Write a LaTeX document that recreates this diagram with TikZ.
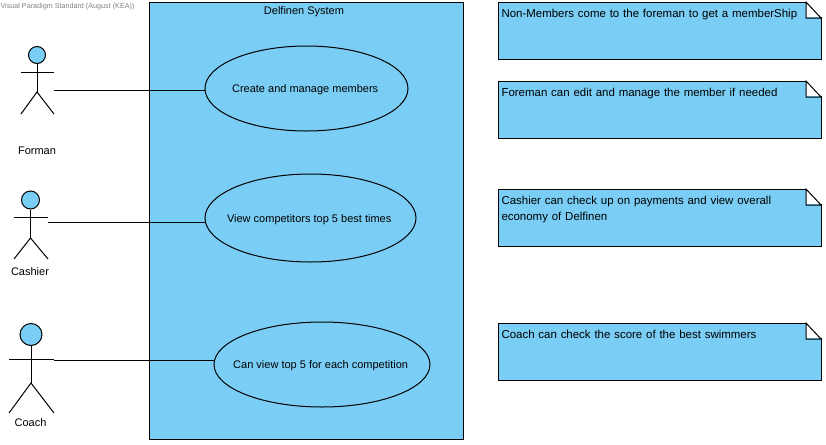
\documentclass[tikz,border=0pt]{standalone}
\usepackage{fontspec}
\setmainfont{Liberation Sans}
\usetikzlibrary{shapes.geometric}
\definecolor{vpblue}{RGB}{122,206,245}
\newcommand{\uclabel}[1]{\makebox[0pt]{\hspace*{-2pt}\raisebox{-3.25pt}[0pt][0pt]{#1}}}

\begin{document}
\begin{tikzpicture}[x=0.75pt,y=-0.75pt,line width=0.75pt,
	every node/.style={inner sep=0pt,font=\fontsize{8.25pt}{11pt}\selectfont},
	system/.style={draw=black,fill=vpblue,rectangle,minimum width=235.5pt,minimum height=327.75pt},
	usecase/.style={draw=black,fill=vpblue,ellipse},
	head/.style={draw=black,fill=vpblue,circle},
	note/.style={draw=black,fill=vpblue,rectangle,minimum width=242.25pt,minimum height=42.75pt,anchor=north west},
	notetext/.style={anchor=north west,text width=238pt,align=left,xshift=2.25pt,yshift=-5pt,
		font=\fontsize{8.6pt}{12pt}\selectfont}]
	\useasboundingbox (0,0) rectangle (826,444);

	\node[text=gray,font=\fontsize{5.4pt}{7pt}\selectfont,anchor=west] (standard) at (0,7) {Visual Paradigm Standard (August (KEA))};

	\node[system] (system) at (306,220.5) {};
	\node (systemname) at (304,11.5) {Delfinen System};

	\node[usecase,minimum width=152.25pt,minimum height=63.75pt] (members) at (306.5,88.5) {\uclabel{Create and manage members}};
	\node[usecase,minimum width=158.25pt,minimum height=66pt] (times) at (310.5,218) {\uclabel{View competitors top 5 best times}};
	\node[usecase,minimum width=162pt,minimum height=63.75pt] (top5) at (322,364.5) {\uclabel{Can view top 5 for each competition}};

	% Forman
	\node[head,minimum size=12.75pt] (formanhead) at (37,55) {};
	\coordinate (formanhip) at (37,92);
	\coordinate (formanhand) at (54,90);
	\node (formanname) at (37,151) {Forman};
	\draw (formanhead) -- (formanhip);
	\draw (21,72) -- (54,72);
	\draw (21,114) -- (formanhip) -- (54,114);

	% Cashier
	\node[head,minimum size=13.5pt] (cashierhead) at (30.5,200) {};
	\coordinate (cashierhip) at (30.5,238);
	\coordinate (cashierhand) at (48,222);
	\node (cashiername) at (30,271.5) {Cashier};
	\draw (cashierhead) -- (cashierhip);
	\draw (14,217) -- (48,217);
	\draw (14,259) -- (cashierhip) -- (48,259);

	% Coach
	\node[head,minimum size=16.5pt] (coachhead) at (31,334.5) {};
	\coordinate (coachhip) at (31,383);
	\coordinate (coachhand) at (54,360);
	\node (coachname) at (30.5,422.5) {Coach};
	\draw (coachhead) -- (coachhip);
	\draw (9,359) -- (54,359);
	\draw (9,413) -- (coachhip) -- (54,413);

	\draw (formanhand) -- (formanhand -| members.west);
	\draw (cashierhand) -- (cashierhand -| times.west);
	\draw (coachhand) -- (coachhand -| top5.west);

	% notes
	\foreach \name/\ypos/\words in {
		nonmembers/2/{Non-Members come to the foreman to get a memberShip},
		foreman/81/{Foreman can edit and manage the member if needed},
		cashier/189/{Cashier can check up on payments and view overall\\economy of Delfinen},
		coach/323/{Coach can check the score of the best swimmers}}{
		\node[note] (\name) at (498,\ypos) {};
		\coordinate (\name corner) at (821,\ypos);
		\fill[white] (\name corner) ++(-15,-1) rectangle ++(17,16);
		\draw (\name corner) ++(-15,0) -- ++(0,16) -- ++(15,0) -- cycle;
		\node[notetext] (\name text) at (498,\ypos) {\words};
	}
\end{tikzpicture}
\end{document}
